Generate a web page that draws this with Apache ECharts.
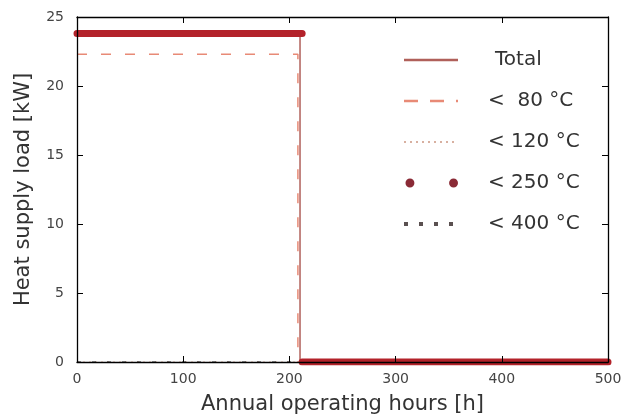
<!DOCTYPE html>
<html>
<head>
<meta charset="utf-8">
<script src="https://cdn.jsdelivr.net/npm/echarts@6/dist/echarts.min.js"></script>
<style>html,body{margin:0;padding:0;background:#fff}#c{width:627px;height:417px}</style>
</head>
<body>
<div id="c"></div>
<script>
// Data
var seriesNames = ['Total', '<  80 °C', '< 120 °C', '< 250 °C', '< 400 °C'];
var totalHours = [0, 210, 210, 500];
var totalLoad  = [23.8, 23.8, 0, 0];
var lt80Hours  = [0, 208, 208, 500];
var lt80Load   = [22.3, 22.3, 0, 0];
var lt120Hours = [0, 500];
var lt120Load  = [0, 0];
var lt250Hours = [0, 212, 212, 212, 500];
var lt250Load  = [23.8, 23.8, '-', 0, 0];
var lt400Hours = [0, 500];
var lt400Load  = [0, 0];
var xTicks = [0, 100, 200, 300, 400, 500];
var yTicks = [0, 5, 10, 15, 20, 25];

function pairs(xs, ys) { return xs.map(function (x, i) { return [x, ys[i]]; }); }

var FONT = 'DejaVu Sans';
var chart = echarts.init(document.getElementById('c'), null, {renderer: 'canvas'});

var axisCommon = {
  axisLine: {show: true, onZero: false, lineStyle: {color: '#000', width: 1.3}},
  axisTick: {show: true, inside: true, length: 6, lineStyle: {color: '#000'}},
  splitLine: {show: false}
};

var dotsIcon = 'path://M0,0h0.01v0.01h-0.01z M54,20h0.01v0.01h-0.01z ' +
  'M1.5,10a4.5,4.5 0 1,0 9,0a4.5,4.5 0 1,0 -9,0z M45.5,10a4.5,4.5 0 1,0 9,0a4.5,4.5 0 1,0 -9,0z';

chart.setOption({
  animation: false,
  backgroundColor: '#fff',
  textStyle: {fontFamily: FONT},
  grid: {left: 77, right: 19, top: 17, bottom: 55, containLabel: false, outerBoundsMode: 'none'},
  legend: {
    orient: 'vertical',
    left: 397,
    top: 45,
    itemWidth: 54,
    itemHeight: 20,
    itemGap: 21,
    itemStyle: {opacity: 0},
    textStyle: {fontFamily: FONT, fontSize: 20, color: '#333', padding: [0, 0, 0, 32]},
    data: [
      {name: seriesNames[0], lineStyle: {width: 2.5}},
      {name: seriesNames[1], lineStyle: {width: 2.5, type: [14, 12]}, textStyle: {padding: [0, 0, 0, 25]}},
      {name: seriesNames[2], lineStyle: {width: 2, type: [2, 4]}, textStyle: {padding: [0, 0, 0, 25]}},
      {name: seriesNames[3], icon: dotsIcon, itemStyle: {opacity: 1}, textStyle: {padding: [0, 0, 0, 25]}},
      {name: seriesNames[4], lineStyle: {width: 4, color: '#5a5050', type: [4, 11]}, textStyle: {padding: [0, 0, 0, 25]}}
    ]
  },
  xAxis: [
    Object.assign({
      type: 'value', min: 0, max: 500, interval: 100, position: 'bottom', z: 10,
      name: 'Annual operating hours [h]', nameLocation: 'middle', nameGap: 32,
      nameTextStyle: {fontFamily: FONT, fontSize: 21, color: '#333'},
      axisLabel: {fontFamily: FONT, fontSize: 14, color: '#444', margin: 10,
        formatter: function (v) { return xTicks.indexOf(v) >= 0 ? String(v) : ''; }}
    }, axisCommon),
    Object.assign({
      type: 'value', min: 0, max: 500, interval: 100, position: 'top', z: 10,
      axisLabel: {show: false}
    }, axisCommon)
  ],
  yAxis: [
    Object.assign({
      type: 'value', min: 0, max: 25, interval: 5, position: 'left', z: 10,
      name: 'Heat supply load [kW]', nameLocation: 'middle', nameGap: 43, nameRotate: 90,
      nameTextStyle: {fontFamily: FONT, fontSize: 21, color: '#333'},
      axisLabel: {fontFamily: FONT, fontSize: 14, color: '#444', margin: 13,
        formatter: function (v) { return yTicks.indexOf(v) >= 0 ? String(v) : ''; }}
    }, axisCommon),
    Object.assign({
      type: 'value', min: 0, max: 25, interval: 5, position: 'right', z: 10,
      axisLabel: {show: false}
    }, axisCommon)
  ],
  series: [
    {name: seriesNames[0], type: 'line', data: pairs(totalHours, totalLoad), symbol: 'none',
      lineStyle: {color: '#b0605a', width: 1.5, type: 'solid'}, itemStyle: {color: '#c98a6a'}, z: 3},
    {name: seriesNames[1], type: 'line', data: pairs(lt80Hours, lt80Load), symbol: 'none',
      lineStyle: {color: '#e88a76', width: 1.5, type: [10, 14]}, itemStyle: {color: '#e0806a'}, z: 3},
    {name: seriesNames[2], type: 'line', data: pairs(lt120Hours, lt120Load), symbol: 'none',
      lineStyle: {color: '#d8b0a0', width: 1, type: [2, 4]}, itemStyle: {color: '#d8b0a0'}, z: 1},
    {name: seriesNames[3], type: 'line', data: pairs(lt250Hours, lt250Load), symbol: 'none',
      connectNulls: false,
      lineStyle: {color: '#b3222a', width: 7, cap: 'round'}, itemStyle: {color: '#8a2a36'}, z: 4},
    {name: seriesNames[4], type: 'line', data: pairs(lt400Hours, lt400Load), symbol: 'none',
      lineStyle: {color: '#222', width: 1, type: [4, 11]}, itemStyle: {color: '#5a5050'}, z: 1}
  ]
});
</script>
</body>
</html>
